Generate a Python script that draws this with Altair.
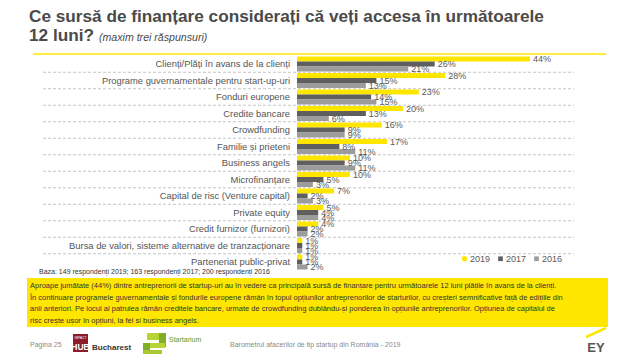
import altair as alt
import pandas as pd

categories = [
    "Clienți/Plăți în avans de la clienți",
    "Programe guvernamentale pentru start-up-uri",
    "Fonduri europene",
    "Credite bancare",
    "Crowdfunding",
    "Familie și prieteni",
    "Business angels",
    "Microfinanțare",
    "Capital de risc (Venture capital)",
    "Private equity",
    "Credit furnizor (furnizori)",
    "Bursa de valori, sisteme alternative de tranzacționare",
    "Parteneriat public-privat",
]
series = ["2019", "2017", "2016"]
values_2019 = [44, 28, 23, 20, 16, 17, 10, 10, 7, 5, 4, 1, 1]
values_2017 = [26, 15, 14, 13, 9, 8, 9, 5, 2, 4, 2, 1, 1]
values_2016 = [21, 13, 15, 6, 9, 11, 11, 3, 3, 4, 2, 1, 2]
colors = ["#FFE600", "#5f5f5f", "#9c9c9c"]

summary_lines = [
    "Aproape jumătate (44%) dintre antreprenorii de startup-uri au în vedere ca principală sursă de finanțare pentru următoarele 12 luni plățile în avans de la clienți.",
    "În continuare programele guvernamentale și fondurile europene rămân în topul opțiunilor antreprenorilor de starturilor, cu creșteri semnificative față de edițiile din",
    "anii anteriori. Pe locul al patrulea rămân creditele bancare, urmate de crowdfunding dublându-și ponderea în opțiunile antreprenorilor. Opțiunea de capitalul de",
    "risc crește ușor în opțiuni, la fel si business angels.",
]

rows = []
for s, vals in zip(series, [values_2019, values_2017, values_2016]):
    for c, v in zip(categories, vals):
        rows.append({"cat": c, "series": s, "value": v, "label": f"{v}%"})
df = pd.DataFrame(rows)
cat_df = pd.DataFrame({"cat": categories})
grid_df = pd.DataFrame({"cat": categories[1:]})

FONT = "Liberation Sans"
yscale = alt.Scale(domain=categories, range=[47.75, 262.25], paddingInner=0, paddingOuter=0)
xscale = alt.Scale(domain=[0, 44], range=[289, 522], nice=False, zero=True)
yoff = alt.YOffset("series:N", scale=alt.Scale(domain=series, paddingInner=0, paddingOuter=0.15))
color = alt.Color(
    "series:N",
    scale=alt.Scale(domain=series, range=colors),
    legend=alt.Legend(
        orient="none", legendX=452, legendY=246, direction="horizontal", title=None,
        symbolType="square", symbolSize=22, labelFontSize=9, labelColor="#595959",
        labelFont=FONT, columnPadding=5, labelOffset=1, symbolStrokeWidth=0,
    ),
)

bars = alt.Chart(df).mark_bar().encode(
    y=alt.Y("cat:N", scale=yscale, axis=None),
    yOffset=yoff,
    x=alt.X("value:Q", scale=xscale, axis=None),
    color=color,
)
vlabels = alt.Chart(df).mark_text(
    align="left", baseline="middle", dx=3, fontSize=9, font=FONT, color="#595959"
).encode(
    y=alt.Y("cat:N", scale=yscale, axis=None),
    yOffset=yoff,
    x=alt.X("value:Q", scale=xscale, axis=None),
    text="label:N",
)
clabels = alt.Chart(cat_df).mark_text(
    align="right", baseline="middle", fontSize=9.4, font=FONT, color="#555555"
).encode(
    y=alt.Y("cat:N", scale=yscale, axis=None),
    x=alt.value(282),
    text="cat:N",
)
grid = alt.Chart(grid_df).mark_rule(strokeDash=[3, 2], color="#b5b5b5", strokeWidth=0.8).encode(
    y=alt.Y("cat:N", scale=yscale, axis=None, bandPosition=0),
    x=alt.value(35),
    x2=alt.value(566),
)
one = alt.Data(values=[{"a": 1}])
topline = alt.Chart(one).mark_rule(color="#FFE600", strokeWidth=1.3).encode(
    x=alt.value(25), x2=alt.value(598), y=alt.value(46), y2=alt.value(46)
)


def txt(t, x, y, size, color="#4a4a4a", weight="normal", style="normal", align="left", baseline="alphabetic", font=FONT):
    return alt.Chart(one).mark_text(
        text=t, fontSize=size, color=color, fontWeight=weight, fontStyle=style,
        align=align, baseline=baseline, font=font,
    ).encode(x=alt.value(x), y=alt.value(y))


def rect(x, x2, y, y2, color):
    return alt.Chart(one).mark_rect(color=color).encode(
        x=alt.value(x), x2=alt.value(x2), y=alt.value(y), y2=alt.value(y2)
    )


title1 = txt("Ce sursă de finanțare considerați că veți accesa în următoarele", 21, 14, 17.2, weight="bold")
title2 = txt("12 luni?", 21, 33, 17.2, weight="bold")
title3 = txt("(maxim trei răspunsuri)", 91, 33, 10.6, style="italic")
base = txt("Baza: 149 respondenți 2019; 163 respondenți 2017; 200 respondenți 2016", 31, 266, 7.0, color="#333333")

box = rect(19, 600, 270, 319, "#FFE600")
summary = [txt(line, 22, 280 + i * 11.6, 7.5, color="#333333") for i, line in enumerate(summary_lines)]

footer = [
    txt("Pagina 25", 22, 339, 7, color="#8a8a8a"),
    rect(65, 80, 326, 344, "#8e1b2c"),
    txt("IMPACT", 72.5, 331, 3.2, color="#ffffff", align="center"),
    txt("HUB", 72.5, 342, 8.5, color="#ffffff", weight="bold", align="center"),
    txt("Bucharest", 84, 342, 8, color="#333333", weight="bold"),
    rect(139, 157, 325, 332, "#b7d334"),
    rect(151, 158, 325, 339, "#7fae2a"),
    rect(136, 157, 335, 340, "#b7d334"),
    rect(135, 142, 335, 346, "#7fae2a"),
    rect(135, 154, 342, 346, "#a9c832"),
    txt("Startarium", 161, 334, 7, color="#5b9a2a"),
    txt("Barometrul afacerilor de tip startup din România - 2019", 222, 339, 7, color="#8a8a8a"),
    alt.Chart(one).mark_rule(color="#FFE600", strokeWidth=2.5).encode(
        x=alt.value(578), x2=alt.value(598), y=alt.value(329), y2=alt.value(320)
    ),
    txt("EY", 588, 344, 13, color="#555555", weight="bold", align="center"),
]

chart = alt.layer(
    topline, grid, bars, vlabels, clabels, title1, title2, title3, base, box, *summary, *footer
).properties(
    width=622, height=350, autosize=alt.AutoSizeParams(type="none"), padding=0
).configure_view(stroke=None)

chart.save("out.html", embed_options={"renderer": "svg", "actions": False})
